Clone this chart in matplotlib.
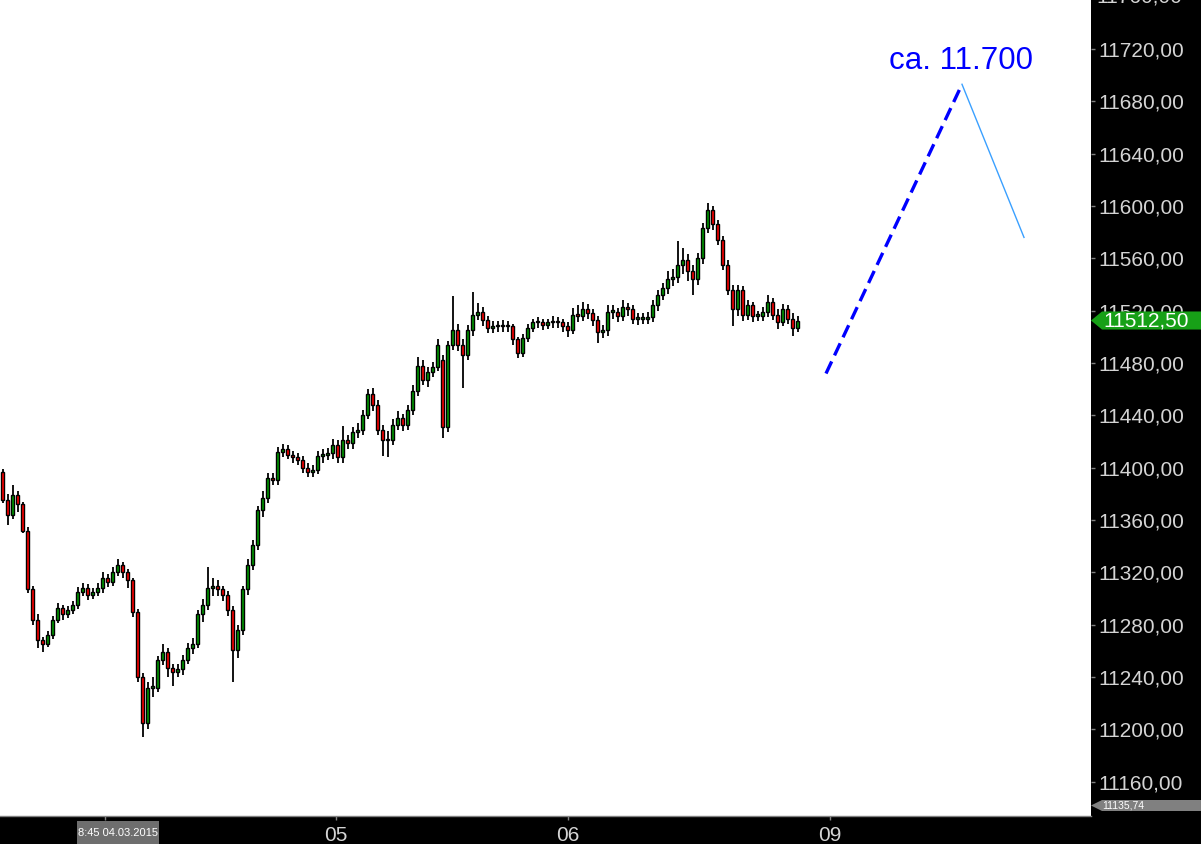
import matplotlib
matplotlib.use("Agg")
import matplotlib.pyplot as plt
import matplotlib.transforms as mtransforms
from matplotlib.patches import Polygon, Rectangle
import numpy as np

plt.rcParams['font.family'] = ['Liberation Sans', 'DejaVu Sans']

# ---------------- data ----------------
opens = [
    11397, 11375, 11364, 11379, 11372, 11352, 11307, 11284, 11268, 11265,
    11272, 11284, 11293, 11288, 11291, 11295, 11305, 11308, 11303, 11305,
    11308, 11316, 11313, 11320, 11326, 11320, 11314, 11290, 11240, 11205,
    11232, 11232, 11253, 11259, 11247, 11244, 11246, 11253, 11262, 11265,
    11288, 11295, 11308, 11310, 11307, 11303, 11291, 11261, 11276, 11307,
    11326, 11341, 11368, 11377, 11392, 11391, 11412, 11414, 11410, 11408,
    11406, 11400, 11397, 11398, 11409, 11410, 11411, 11417, 11408, 11421,
    11419, 11427, 11429, 11440, 11456, 11448, 11429, 11421, 11421, 11433,
    11438, 11433, 11444, 11459, 11478, 11467, 11473, 11477, 11482, 11431,
    11494, 11505, 11494, 11486, 11505, 11517, 11519, 11513, 11507, 11508,
    11508, 11509, 11508, 11498, 11488, 11499, 11507, 11511, 11511, 11509,
    11511, 11512, 11511, 11508, 11505, 11517, 11516, 11521, 11518, 11513,
    11504, 11505, 11519, 11519, 11516, 11523, 11521, 11514, 11514, 11514,
    11515, 11524, 11532, 11537, 11544, 11546, 11555, 11559, 11550, 11544,
    11560, 11583, 11597, 11586, 11574, 11555, 11536, 11521, 11536, 11517,
    11524, 11516, 11516, 11519, 11527, 11517, 11511, 11521, 11514, 11507,
]
highs = [
    11399, 11380, 11387, 11382, 11374, 11355, 11310, 11288, 11271, 11275,
    11287, 11297, 11295, 11294, 11298, 11309, 11312, 11311, 11308, 11312,
    11320, 11319, 11324, 11330, 11328, 11323, 11316, 11292, 11243, 11236,
    11240, 11256, 11265, 11262, 11250, 11250, 11257, 11266, 11270, 11291,
    11300, 11324, 11316, 11314, 11310, 11306, 11294, 11280, 11310, 11330,
    11345, 11371, 11382, 11396, 11396, 11416, 11418, 11417, 11413, 11411,
    11409, 11404, 11402, 11413, 11414, 11415, 11422, 11421, 11432, 11425,
    11431, 11434, 11444, 11460, 11461, 11452, 11433, 11428, 11437, 11443,
    11441, 11448, 11463, 11485, 11482, 11477, 11481, 11498, 11486, 11497,
    11531, 11510, 11498, 11509, 11534, 11526, 11523, 11516, 11512, 11512,
    11513, 11512, 11510, 11500, 11502, 11510, 11514, 11515, 11514, 11514,
    11516, 11515, 11514, 11511, 11522, 11524, 11527, 11525, 11521, 11516,
    11509, 11524, 11524, 11522, 11528, 11526, 11524, 11518, 11518, 11519,
    11528, 11536, 11541, 11550, 11552, 11573, 11568, 11563, 11555, 11564,
    11587, 11602, 11600, 11589, 11577, 11559, 11540, 11540, 11539, 11528,
    11527, 11520, 11523, 11532, 11530, 11521, 11525, 11524, 11518, 11516,
]
lows = [
    11373, 11356, 11361, 11366, 11350, 11304, 11280, 11262, 11259, 11263,
    11269, 11281, 11284, 11285, 11288, 11292, 11302, 11299, 11300, 11302,
    11304, 11309, 11310, 11317, 11316, 11308, 11286, 11236, 11194, 11200,
    11225, 11229, 11249, 11240, 11233, 11240, 11242, 11250, 11258, 11262,
    11282, 11291, 11302, 11302, 11298, 11287, 11236, 11255, 11272, 11303,
    11322, 11337, 11362, 11373, 11387, 11387, 11408, 11407, 11404, 11402,
    11396, 11393, 11393, 11395, 11404, 11406, 11407, 11404, 11404, 11414,
    11414, 11423, 11425, 11437, 11443, 11425, 11409, 11408, 11417, 11429,
    11428, 11429, 11440, 11455, 11463, 11462, 11469, 11474, 11423, 11427,
    11490, 11489, 11461, 11482, 11501, 11513, 11508, 11503, 11503, 11504,
    11504, 11504, 11494, 11484, 11485, 11496, 11504, 11507, 11505, 11506,
    11507, 11507, 11504, 11500, 11502, 11511, 11512, 11514, 11508, 11495,
    11499, 11501, 11514, 11511, 11512, 11516, 11510, 11509, 11510, 11510,
    11511, 11520, 11528, 11533, 11539, 11541, 11548, 11543, 11532, 11540,
    11556, 11579, 11582, 11570, 11551, 11532, 11508, 11516, 11512, 11513,
    11511, 11512, 11512, 11515, 11513, 11506, 11508, 11510, 11501, 11504,
]
closes = [
    11375, 11364, 11379, 11372, 11352, 11307, 11284, 11268, 11265, 11272,
    11284, 11293, 11288, 11291, 11295, 11305, 11308, 11303, 11305, 11308,
    11316, 11313, 11320, 11326, 11320, 11314, 11290, 11240, 11205, 11232,
    11232, 11253, 11259, 11247, 11244, 11246, 11253, 11262, 11265, 11288,
    11295, 11308, 11310, 11307, 11303, 11291, 11261, 11276, 11307, 11326,
    11341, 11368, 11377, 11392, 11391, 11412, 11414, 11410, 11408, 11406,
    11400, 11397, 11398, 11409, 11410, 11411, 11417, 11408, 11421, 11419,
    11427, 11429, 11440, 11456, 11448, 11429, 11421, 11421, 11433, 11438,
    11433, 11444, 11459, 11478, 11467, 11473, 11477, 11494, 11431, 11494,
    11505, 11494, 11486, 11505, 11517, 11519, 11513, 11507, 11508, 11508,
    11509, 11508, 11498, 11488, 11499, 11507, 11511, 11511, 11509, 11511,
    11512, 11511, 11508, 11505, 11517, 11516, 11521, 11518, 11513, 11504,
    11505, 11519, 11519, 11516, 11523, 11521, 11514, 11514, 11514, 11515,
    11524, 11532, 11537, 11544, 11546, 11555, 11559, 11550, 11544, 11560,
    11583, 11597, 11586, 11574, 11555, 11536, 11521, 11536, 11517, 11524,
    11516, 11516, 11519, 11527, 11517, 11511, 11521, 11514, 11507, 11512.5,
]

y_ticks = [11160, 11200, 11240, 11280, 11320, 11360, 11400, 11440, 11480,
           11520, 11560, 11600, 11640, 11680, 11720]
day_labels = ['05', '06', '09']
day_positions = [66.7, 113.1, 165.5]
start_label = '8:45 04.03.2015'
start_position = 20.5
last_price = 11512.50
axis_min_label = '11135,74'

# projection (index, price)
proj_up_x = [164.7, 191.9]
proj_up_y = [11472, 11693]
proj_down_x = [191.9, 204.3]
proj_down_y = [11693, 11576]
target_text = 'ca. 11.700'

# ---------------- figure ----------------
W, H = 1201, 844
fig = plt.figure(figsize=(W / 100, H / 100), dpi=100, facecolor='black')
ax_left_px, ax_right_px, ax_bottom_px = 0, 1091, 28
ax = fig.add_axes([ax_left_px / W, ax_bottom_px / H,
                   (ax_right_px - ax_left_px) / W, (H - ax_bottom_px) / H])
ax.set_facecolor('white')

px_per_bar = 5.0
ax.set_xlim(-0.5, (ax_right_px - ax_left_px) / px_per_bar - 0.5)
ax.set_ylim(11133.9, 11757.4)

o = np.array(opens, float)
h = np.array(highs, float)
l = np.array(lows, float)
c = np.array(closes, float)
idx = np.arange(len(c))

up = c >= o
body_bottom = np.minimum(o, c)
body_height = np.maximum(np.abs(c - o), 1.2)
colors = np.where(up, '#009a00', '#ff0000')

ax.vlines(idx, l, h, color='black', linewidth=1.3, zorder=2)
ax.bar(idx, body_height, bottom=body_bottom, width=0.72, color=colors,
       edgecolor='black', linewidth=1.0, zorder=3)

# projection lines
ax.plot(proj_up_x, proj_up_y, color='#0000ff', linewidth=2.4,
        dashes=(4, 2), solid_capstyle='butt', zorder=4)
ax.plot(proj_down_x, proj_down_y, color='#3aa0ff', linewidth=1.0, zorder=4)
ax.text(191.7, 11704.7, target_text, color='#0000ff', fontsize=22.5,
        ha='center', va='baseline', zorder=5)

# y axis on right
ax.yaxis.tick_right()
ax.set_yticks(y_ticks)
ax.set_yticklabels([f"{v:.2f}".replace('.', ',') for v in y_ticks])
ax.tick_params(axis='y', direction='out', length=3, width=1, color='#808080',
               labelcolor='#d4d4d4', labelsize=15, pad=2)

# x axis
ax.set_xticks(day_positions)
ax.set_xticklabels(day_labels)
ax.set_xticks([start_position], minor=True)
ax.tick_params(axis='x', which='both', direction='out', length=3, width=1,
               color='#808080', labelcolor='#d4d4d4', labelsize=15, pad=4)

for s in ['top', 'left', 'right']:
    ax.spines[s].set_visible(False)
ax.spines['bottom'].set_color('#808080')
ax.spines['bottom'].set_linewidth(1.0)

# partially cut top label
blend = mtransforms.blended_transform_factory(ax.transAxes, ax.transData)
ax.text(1096 / 1091, 11760, '11760,00', color='#d4d4d4', fontsize=15,
        ha='left', va='center', transform=blend, clip_on=False)

# last price marker (green)
hh = 6.9
xr = W / 1091
xb = 1102 / 1091
poly = Polygon([(1.0, last_price), (xb, last_price + hh), (xr, last_price + hh),
                (xr, last_price - hh), (xb, last_price - hh)], closed=True,
               transform=blend, facecolor='#17a017', edgecolor='none',
               clip_on=False, zorder=10)
ax.add_patch(poly)
ax.text(1103 / 1091, last_price, f"{last_price:.2f}".replace('.', ','),
        color='white', fontsize=15, ha='left', va='center',
        transform=blend, clip_on=False, zorder=11)

# bottom value marker (gray)
yc = (816 - 805.5) / 816
hg = 5.5 / 816
poly2 = Polygon([(1.0, yc), (xb, yc + hg), (xr, yc + hg), (xr, yc - hg),
                 (xb, yc - hg)], closed=True, transform=ax.transAxes,
                facecolor='#808080', edgecolor='none', clip_on=False, zorder=10)
ax.add_patch(poly2)
ax.text(1102 / 1091, yc, axis_min_label, color='white', fontsize=7.5,
        ha='left', va='center', transform=ax.transAxes, clip_on=False, zorder=11)

# start-time box on the x axis band
fig.patches.append(Rectangle((77 / W, 0), (159 - 77) / W, 23 / H,
                             transform=fig.transFigure, facecolor='#6e6e6e',
                             edgecolor='none', zorder=5))
fig.text(118 / W, 11.5 / H, start_label, color='white', fontsize=8,
         ha='center', va='center', zorder=6)

fig.savefig('out.png', dpi=100, facecolor='black')
